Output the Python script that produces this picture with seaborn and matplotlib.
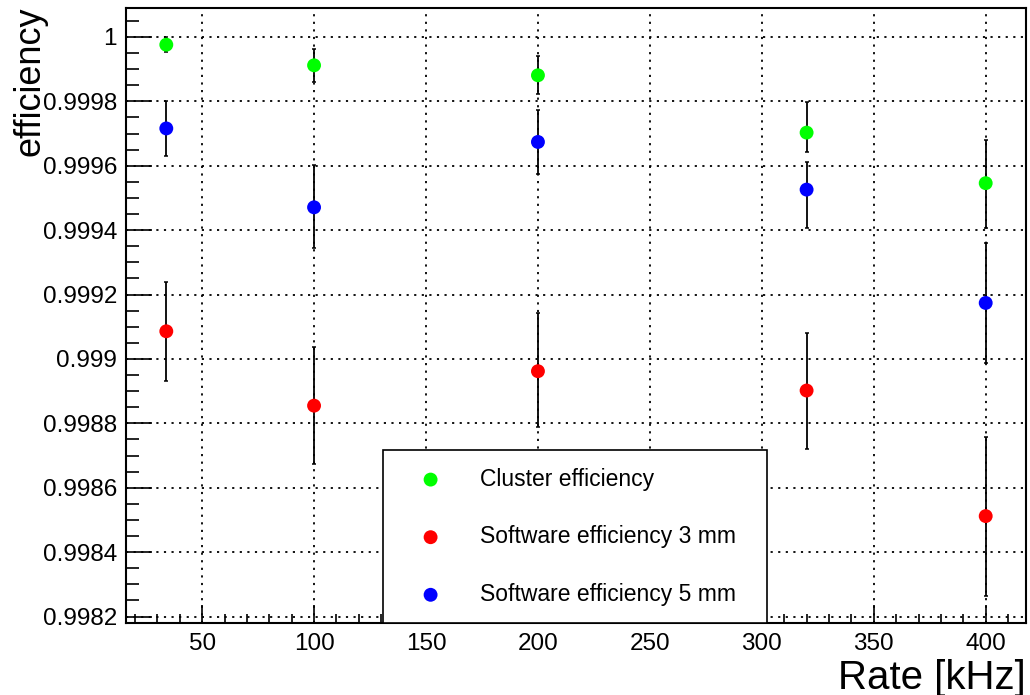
import numpy as np
import pandas as pd
import matplotlib
matplotlib.use("Agg")
import matplotlib.pyplot as plt
from matplotlib.ticker import MultipleLocator, FuncFormatter
import seaborn as sns

# Measured rates [kHz]
rates = [34, 100, 200, 320, 400]

# Cluster efficiency with asymmetric uncertainties
cluster_eff = [0.999976, 0.999912, 0.999881, 0.999703, 0.999546]
cluster_lo = [0.000024, 0.000052, 0.000059, 0.000060, 0.000139]
cluster_hi = [0.000024, 0.000050, 0.000060, 0.000095, 0.000135]

# Software efficiency, 3 mm window
sw3_eff = [0.999086, 0.998855, 0.998962, 0.998902, 0.998512]
sw3_lo = [0.000155, 0.000181, 0.000174, 0.000181, 0.000247]
sw3_hi = [0.000154, 0.000183, 0.000180, 0.000180, 0.000246]

# Software efficiency, 5 mm window
sw5_eff = [0.999716, 0.999471, 0.999674, 0.999526, 0.999174]
sw5_lo = [0.000087, 0.000125, 0.000098, 0.000119, 0.000185]
sw5_hi = [0.000084, 0.000130, 0.000098, 0.000085, 0.000187]

series_names = ["Cluster efficiency", "Software efficiency 3 mm", "Software efficiency 5 mm"]
series_colors = ["#00ff00", "#ff0000", "#0000ff"]

sns.set_theme(style="white")
plt.rcParams["font.family"] = ["Liberation Sans", "DejaVu Sans"]
plt.rcParams.update({
    "text.color": "black",
    "axes.labelcolor": "black",
    "xtick.color": "black",
    "ytick.color": "black",
    "axes.edgecolor": "black",
    "axes.linewidth": 1.5,
})

fig = plt.figure(figsize=(10.30, 6.95), dpi=100)
ax = fig.add_axes([126 / 1030, 1 - 623 / 695, 900 / 1030, 615 / 695])

data = [
    (cluster_eff, cluster_lo, cluster_hi),
    (sw3_eff, sw3_lo, sw3_hi),
    (sw5_eff, sw5_lo, sw5_hi),
]

for name, color, (eff, lo, hi) in zip(series_names, series_colors, data):
    df = pd.DataFrame({"rate": rates, "eff": eff})
    ax.errorbar(df["rate"], df["eff"], yerr=[lo, hi], fmt="none",
                ecolor="black", elinewidth=1.3, capsize=1.6, capthick=1.1, zorder=2)
    sns.scatterplot(data=df, x="rate", y="eff", ax=ax, color=color, s=100,
                    edgecolor="none", linewidth=0, label=name, zorder=3)

ax.set_xlim(16, 418)
ax.set_ylim(0.99818, 1.00009)

ax.xaxis.set_major_locator(MultipleLocator(50))
ax.xaxis.set_minor_locator(MultipleLocator(10))
ax.yaxis.set_major_locator(MultipleLocator(0.0002))
ax.yaxis.set_minor_locator(MultipleLocator(0.00005))
ax.yaxis.set_major_formatter(FuncFormatter(
    lambda v, p: f"{v:.4f}".rstrip("0").rstrip(".")))

ax.tick_params(axis="both", which="both", direction="in", colors="black",
               labelsize=17.5, top=False, right=False, left=True, bottom=True)
ax.tick_params(axis="y", which="major", length=19, width=1.2, pad=6.5)
ax.tick_params(axis="y", which="minor", length=9.5, width=1.2)
ax.tick_params(axis="x", which="major", length=13, width=1.2, pad=7)
ax.tick_params(axis="x", which="minor", length=6.5, width=1.2)

ax.grid(True, which="major", color="black", linestyle=(0, (1.2, 3.0)), linewidth=1.3)
for s in ax.spines.values():
    s.set_visible(True)
    s.set_color("black")
    s.set_linewidth(1.5)

ax.set_xlabel("Rate [kHz]", fontsize=29, loc="right")
ax.xaxis.set_label_coords(1.0, -0.058)
ax.set_ylabel("efficiency", fontsize=26, loc="top")
ax.yaxis.set_label_coords(-0.087, 1.002)

leg = ax.legend(loc="lower left", bbox_to_anchor=(0.2856, 0.0, 0.4266, 0.2764),
                mode="expand", borderaxespad=0, fontsize=16.5, frameon=True,
                fancybox=False, edgecolor="black", framealpha=1,
                borderpad=0.75, labelspacing=1.51, handletextpad=0.82,
                handlelength=2.65, markerscale=1.0)
leg.get_frame().set_linewidth(1.2)
leg.set_zorder(5)

fig.savefig("out.png", dpi=100, facecolor="white")
